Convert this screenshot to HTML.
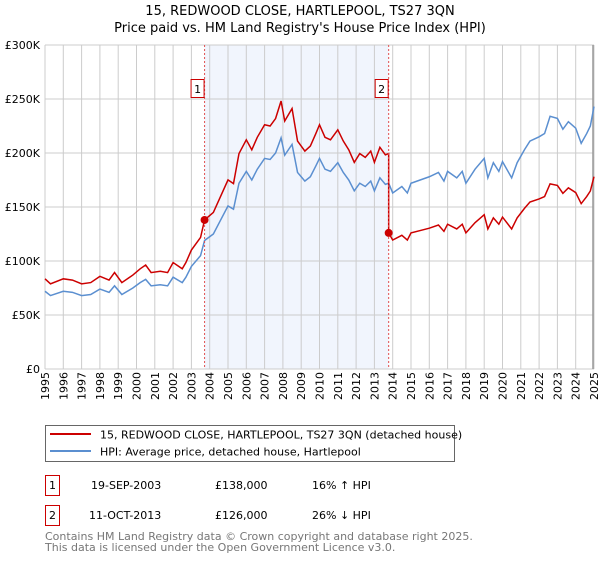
<!DOCTYPE html>
<html><head><meta charset="utf-8">
<style>
body{margin:0;width:600px;height:560px;background:#fff;font-family:"Liberation Sans","DejaVu Sans",sans-serif;overflow:hidden}
svg text{font-family:"DejaVu Sans","Liberation Sans",sans-serif}
</style></head>
<body>
<svg id="chart" width="600" height="560" viewBox="0 0 600 560" xmlns="http://www.w3.org/2000/svg">
<text x="300" y="15" text-anchor="middle" font-size="13" fill="#000">15, REDWOOD CLOSE, HARTLEPOOL, TS27 3QN</text>
<text x="300" y="32" text-anchor="middle" font-size="13" fill="#000">Price paid vs. HM Land Registry's House Price Index (HPI)</text>
<g id="plot"></g>
<g>
<rect x="45.5" y="425.5" width="409" height="36" fill="#fff" stroke="#666"/>
<line x1="50" y1="434" x2="91" y2="434" stroke="#cc0000" stroke-width="2"/>
<text x="100" y="438.5" font-size="11">15, REDWOOD CLOSE, HARTLEPOOL, TS27 3QN (detached house)</text>
<line x1="50" y1="451" x2="91" y2="451" stroke="#5b8fd0" stroke-width="2"/>
<text x="100" y="455.5" font-size="11">HPI: Average price, detached house, Hartlepool</text>
</g>
<g font-size="11">
<rect x="45.5" y="475.5" width="14" height="20" fill="#fff" stroke="#cc0000"/>
<text x="52.5" y="489" text-anchor="middle">1</text>
<text x="91" y="489">19-SEP-2003</text><text x="215" y="489">£138,000</text><text x="312" y="489">16% ↑ HPI</text>
<rect x="45.5" y="505.5" width="14" height="20" fill="#fff" stroke="#cc0000"/>
<text x="52.5" y="519" text-anchor="middle">2</text>
<text x="89" y="519">11-OCT-2013</text><text x="215" y="519">£126,000</text><text x="312" y="519">26% ↓ HPI</text>
</g>
<g font-size="11" fill="#777">
<text x="45" y="540">Contains HM Land Registry data © Crown copyright and database right 2025.</text>
<text x="45" y="551">This data is licensed under the Open Government Licence v3.0.</text>
</g>
</svg>
<script>
const hpiYears=[1995.0,1995.3,1996,1996.5,1997,1997.5,1998,1998.5,1998.8,1999.2,1999.8,2000.2,2000.5,2000.8,2001.3,2001.7,2002.0,2002.5,2002.7,2003.0,2003.5,2003.72,2004.2,2004.6,2005.0,2005.3,2005.6,2006.0,2006.3,2006.6,2007.0,2007.3,2007.6,2007.9,2008.1,2008.5,2008.8,2009.0,2009.2,2009.5,2009.8,2010.0,2010.3,2010.6,2010.9,2011.0,2011.3,2011.6,2011.9,2012.2,2012.5,2012.8,2013.0,2013.3,2013.6,2013.78,2014.0,2014.5,2014.8,2015.0,2015.5,2016.0,2016.5,2016.8,2017.0,2017.5,2017.8,2018.0,2018.5,2019.0,2019.2,2019.5,2019.8,2020.0,2020.5,2020.8,2021.2,2021.5,2022.0,2022.3,2022.6,2023.0,2023.3,2023.6,2024.0,2024.3,2024.6,2024.8,2025.0];
const hpiValues=[72,68,72,71,68,69,74,71,77,69,75,80,83,77,78,77,85,80,85,95,105,119,125,138,151,148,172,183,175,185,195,194,200,214,198,208,182,178,174,178,188,195,185,183,189,191,182,175,165,172,169,174,165,177,171,172,163,169,163,172,175,178,182,174,183,177,183,172,185,195,177,191,183,192,177,191,203,211,215,218,234,232,222,229,223,209,218,225,243];
const saleYears=[2003.72,2013.78];
const salePrices=[138,126];
const saleLabels=["1","2"];
const yTicks=[0,50,100,150,200,250,300];
const yTickLabels=["£0","£50K","£100K","£150K","£200K","£250K","£300K"];
const xTicks=[1995,1996,1997,1998,1999,2000,2001,2002,2003,2004,2005,2006,2007,2008,2009,2010,2011,2012,2013,2014,2015,2016,2017,2018,2019,2020,2021,2022,2023,2024,2025];

const X0=45,X1=594,Y0=369,Y1=45;
const xs=y=>X0+(y-1995)/30*(X1-X0);
const ys=v=>Y0-v/300*(Y0-Y1);
const NS="http://www.w3.org/2000/svg";
const g=document.getElementById('plot');
function mk(t,a,p){const e=document.createElementNS(NS,t);for(const k in a)e.setAttribute(k,a[k]);(p||g).appendChild(e);return e;}
function hpiAt(y){for(let i=1;i<hpiYears.length;i++){if(y<=hpiYears[i]){const t=(y-hpiYears[i-1])/(hpiYears[i]-hpiYears[i-1]);return hpiValues[i-1]+t*(hpiValues[i]-hpiValues[i-1]);}}return hpiValues[hpiValues.length-1];}

let sh=mk('rect',{x:xs(saleYears[0]),y:Y1,width:xs(saleYears[1])-xs(saleYears[0]),height:Y0-Y1,fill:'#eef3fc',opacity:0.8});


xTicks.forEach(t=>{const l=mk('line',{x1:xs(t),x2:xs(t),y1:Y1,y2:Y0,stroke:'#ccc','stroke-width':1});


const tx=mk('text',{x:0,y:0,'font-size':11,'text-anchor':'end',transform:`translate(${xs(t)+4},${Y0+3}) rotate(-90)`});tx.textContent=t;

});
yTicks.forEach((t,i)=>{const l=mk('line',{x1:X0,x2:X1,y1:ys(t),y2:ys(t),stroke:'#ccc','stroke-width':1});


const tx=mk('text',{x:X0-5,y:ys(t)+4,'font-size':11,'text-anchor':'end'});tx.textContent=yTickLabels[i];

});
mk('line',{x1:X1-1,x2:X1-1,y1:Y1,y2:Y0,stroke:'#999','stroke-width':1.5});
const r0=salePrices[0]/hpiAt(saleYears[0]), r1=salePrices[1]/hpiAt(saleYears[1]);
let pts=[];
hpiYears.forEach((y,i)=>{if(y<saleYears[1])pts.push([xs(y),ys(hpiValues[i]*r0)]);});
pts.push([xs(saleYears[1]),ys(hpiAt(saleYears[1])*r0)]);
pts.push([xs(saleYears[1]),ys(salePrices[1])]);
hpiYears.forEach((y,i)=>{if(y>saleYears[1])pts.push([xs(y),ys(hpiValues[i]*r1)]);});
const hp=mk('polyline',{points:hpiYears.map((y,i)=>xs(y)+','+ys(hpiValues[i])).join(' '),fill:'none',stroke:'#5b8fd0','stroke-width':1.5});


const rp=mk('polyline',{points:pts.map(p=>p.join(',')).join(' '),fill:'none',stroke:'#cc0000','stroke-width':1.5});


saleYears.forEach((y,i)=>{
const l=mk('line',{x1:xs(y),x2:xs(y),y1:Y1,y2:Y0,stroke:'#e05050','stroke-width':1,'stroke-dasharray':'2,2'});


const c=mk('circle',{cx:xs(y),cy:ys(salePrices[i]),r:4,fill:'#cc0000'});


const b=mk('rect',{x:xs(y)-13.5,y:79.5,width:13,height:18,fill:'#fff',stroke:'#cc0000'});


const t=mk('text',{x:xs(y)-7,y:93,'font-size':11,'text-anchor':'middle'});t.textContent=saleLabels[i];


});
</script>
</body></html>
